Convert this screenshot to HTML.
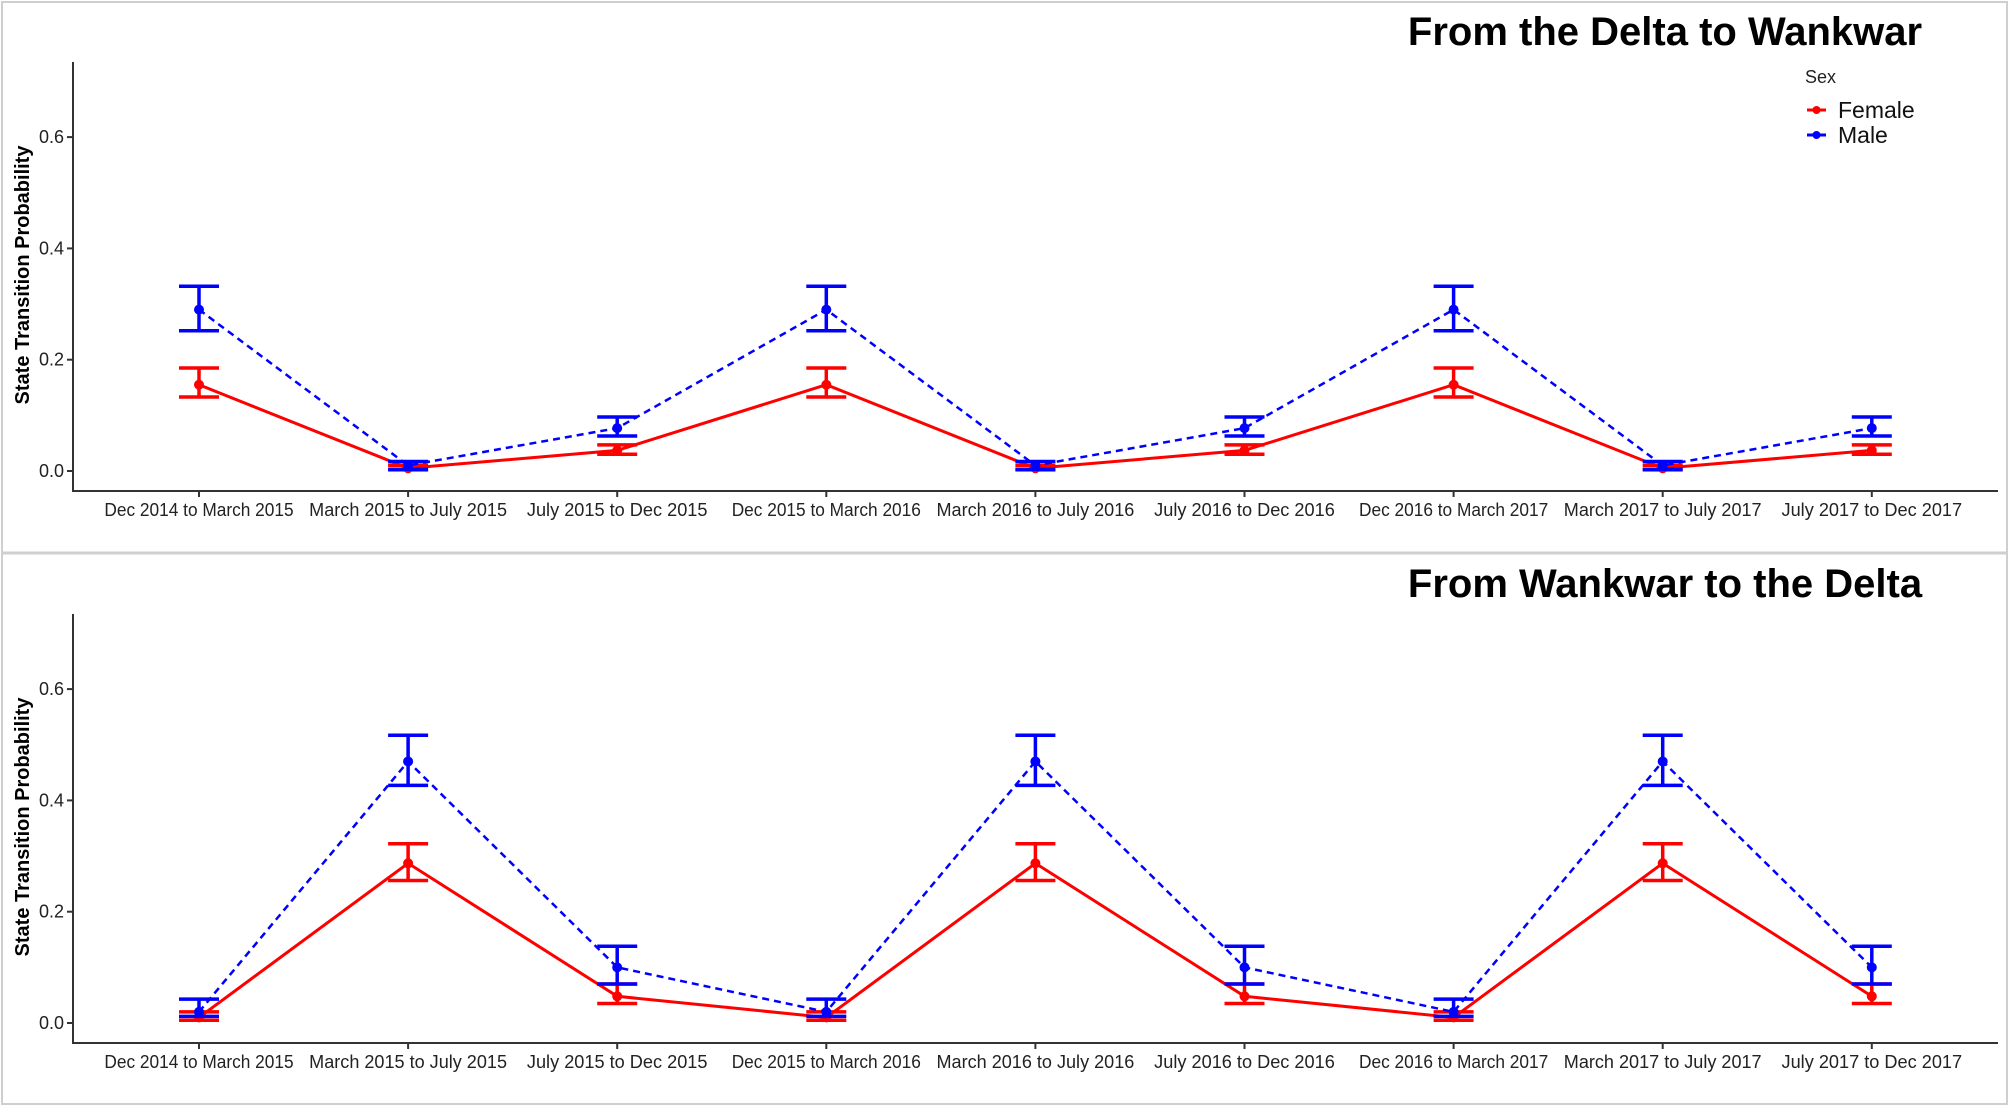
<!DOCTYPE html>
<html><head><meta charset="utf-8"><style>
body{margin:0;background:#fff;}
svg{display:block;font-family:"Liberation Sans",sans-serif;}
</style></head><body>
<svg id="c" width="2009" height="1106" viewBox="0 0 2009 1106">
<rect x="2" y="2" width="2005" height="1102" fill="#fff" stroke="#cfcfcf" stroke-width="2"/>
<line x1="2" y1="553" x2="2007" y2="553" stroke="#cfcfcf" stroke-width="3"/>
</svg>
<script>
const categories=["Dec 2014 to March 2015","March 2015 to July 2015","July 2015 to Dec 2015","Dec 2015 to March 2016","March 2016 to July 2016","July 2016 to Dec 2016","Dec 2016 to March 2017","March 2017 to July 2017","July 2017 to Dec 2017"];
const yTicks=[0,0.2,0.4,0.6];
const yTickLabels=["0.0","0.2","0.4","0.6"];
const p1Female=[0.155,0.005,0.037,0.155,0.005,0.037,0.155,0.005,0.037];
const p1FemaleLo=[0.133,0.002,0.030,0.133,0.002,0.030,0.133,0.002,0.030];
const p1FemaleHi=[0.185,0.010,0.047,0.185,0.010,0.047,0.185,0.010,0.047];
const p1Male=[0.290,0.010,0.077,0.290,0.010,0.077,0.290,0.010,0.077];
const p1MaleLo=[0.252,0.003,0.063,0.252,0.003,0.063,0.252,0.003,0.063];
const p1MaleHi=[0.332,0.017,0.097,0.332,0.017,0.097,0.332,0.017,0.097];
const p2Female=[0.010,0.287,0.048,0.010,0.287,0.048,0.010,0.287,0.048];
const p2FemaleLo=[0.005,0.256,0.035,0.005,0.256,0.035,0.005,0.256,0.035];
const p2FemaleHi=[0.020,0.322,0.070,0.020,0.322,0.070,0.020,0.322,0.070];
const p2Male=[0.020,0.470,0.100,0.020,0.470,0.100,0.020,0.470,0.100];
const p2MaleLo=[0.012,0.427,0.070,0.012,0.427,0.070,0.012,0.427,0.070];
const p2MaleHi=[0.043,0.517,0.138,0.043,0.517,0.138,0.043,0.517,0.138];

const svg=document.getElementById('c');
const NS='http://www.w3.org/2000/svg';
function mk(tag,attrs,parent){const e=document.createElementNS(NS,tag);for(const k in attrs)e.setAttribute(k,attrs[k]);(parent||svg).appendChild(e);return e;}
const xScale=i=>199+i*209.1;

function panel(off,title,fem,femLo,femHi,mal,malLo,malHi,legend,pid){
  const y=v=>471+off-v*556.5;
  const g=mk('g',{});
  
  
  const ya=mk('line',{x1:73,y1:62+off,x2:73,y2:491+off,stroke:'#333','stroke-width':2},g);
  
  
  const xa=mk('line',{x1:72,y1:491+off,x2:1998,y2:491+off,stroke:'#333','stroke-width':2},g);
  
  
  yTicks.forEach((v,i)=>{
    const t=mk('line',{x1:67,y1:y(v),x2:73,y2:y(v),stroke:'#333','stroke-width':2},g);
    
    
    const l=mk('text',{x:64,y:y(v)+6,'text-anchor':'end','font-size':18,fill:'#222'},g);
    
    
    l.textContent=yTickLabels[i];
  });
  categories.forEach((c,i)=>{
    const t=mk('line',{x1:xScale(i),y1:491+off,x2:xScale(i),y2:497+off,stroke:'#333','stroke-width':2},g);
    
    
    const l=mk('text',{x:xScale(i),y:516+off,'text-anchor':'middle','font-size':18,fill:'#222',textLength:c.length*8.6,lengthAdjust:'spacingAndGlyphs'},g);
    
    
    l.textContent=c;
  });
  const yt=mk('text',{x:0,y:0,transform:`translate(29,${275+off}) rotate(-90)`,'text-anchor':'middle','font-size':20,'font-weight':'bold',fill:'#000'},g);
  
  
  yt.textContent='State Transition Probability';
  const tt=mk('text',{x:1665,y:45+off,'text-anchor':'middle','font-size':40,'font-weight':'bold',fill:'#000'},g);
  
  
  tt.textContent=title;
  function series(vals,lo,hi,col,dash,name){
    const pts=vals.map((v,i)=>xScale(i)+','+y(v)).join(' ');
    const pl=mk('polyline',{points:pts,fill:'none',stroke:col,'stroke-width':dash?2.5:3,'stroke-dasharray':dash?'7 5':'none'},g);
    
    
    vals.forEach((v,i)=>{
      const x=xScale(i);
      const eb=mk('path',{d:`M${x},${y(lo[i])}V${y(hi[i])}M${x-20},${y(lo[i])}H${x+20}M${x-20},${y(hi[i])}H${x+20}`,stroke:col,'stroke-width':3.5,fill:'none'},g);
      
      
      const p=mk('circle',{cx:x,cy:y(v),r:5,fill:col},g);
      
      
    });
  }
  series(fem,femLo,femHi,'#ff0000',false,'female');
  series(mal,malLo,malHi,'#0000ff',true,'male');
  if(legend){
    const lt=mk('text',{x:1805,y:83,'font-size':18,fill:'#222'},g);
    
    
    lt.textContent='Sex';
    [['Female','#ff0000',110],['Male','#0000ff',135]].forEach(([n,c,yy])=>{
      const ln=mk('line',{x1:1807,y1:yy,x2:1826,y2:yy,stroke:c,'stroke-width':3},g);
      
      
      const ci=mk('circle',{cx:1816.5,cy:yy,r:4,fill:c},g);
      
      
      const t=mk('text',{x:1838,y:yy+8,'font-size':23,fill:'#111'},g);
      
      
      t.textContent=n;
    });
  }
}
panel(0,'From the Delta to Wankwar',p1Female,p1FemaleLo,p1FemaleHi,p1Male,p1MaleLo,p1MaleHi,true,'panel-delta-to-wankwar');
panel(552,'From Wankwar to the Delta',p2Female,p2FemaleLo,p2FemaleHi,p2Male,p2MaleLo,p2MaleHi,false,'panel-wankwar-to-delta');
</script>
</body></html>
